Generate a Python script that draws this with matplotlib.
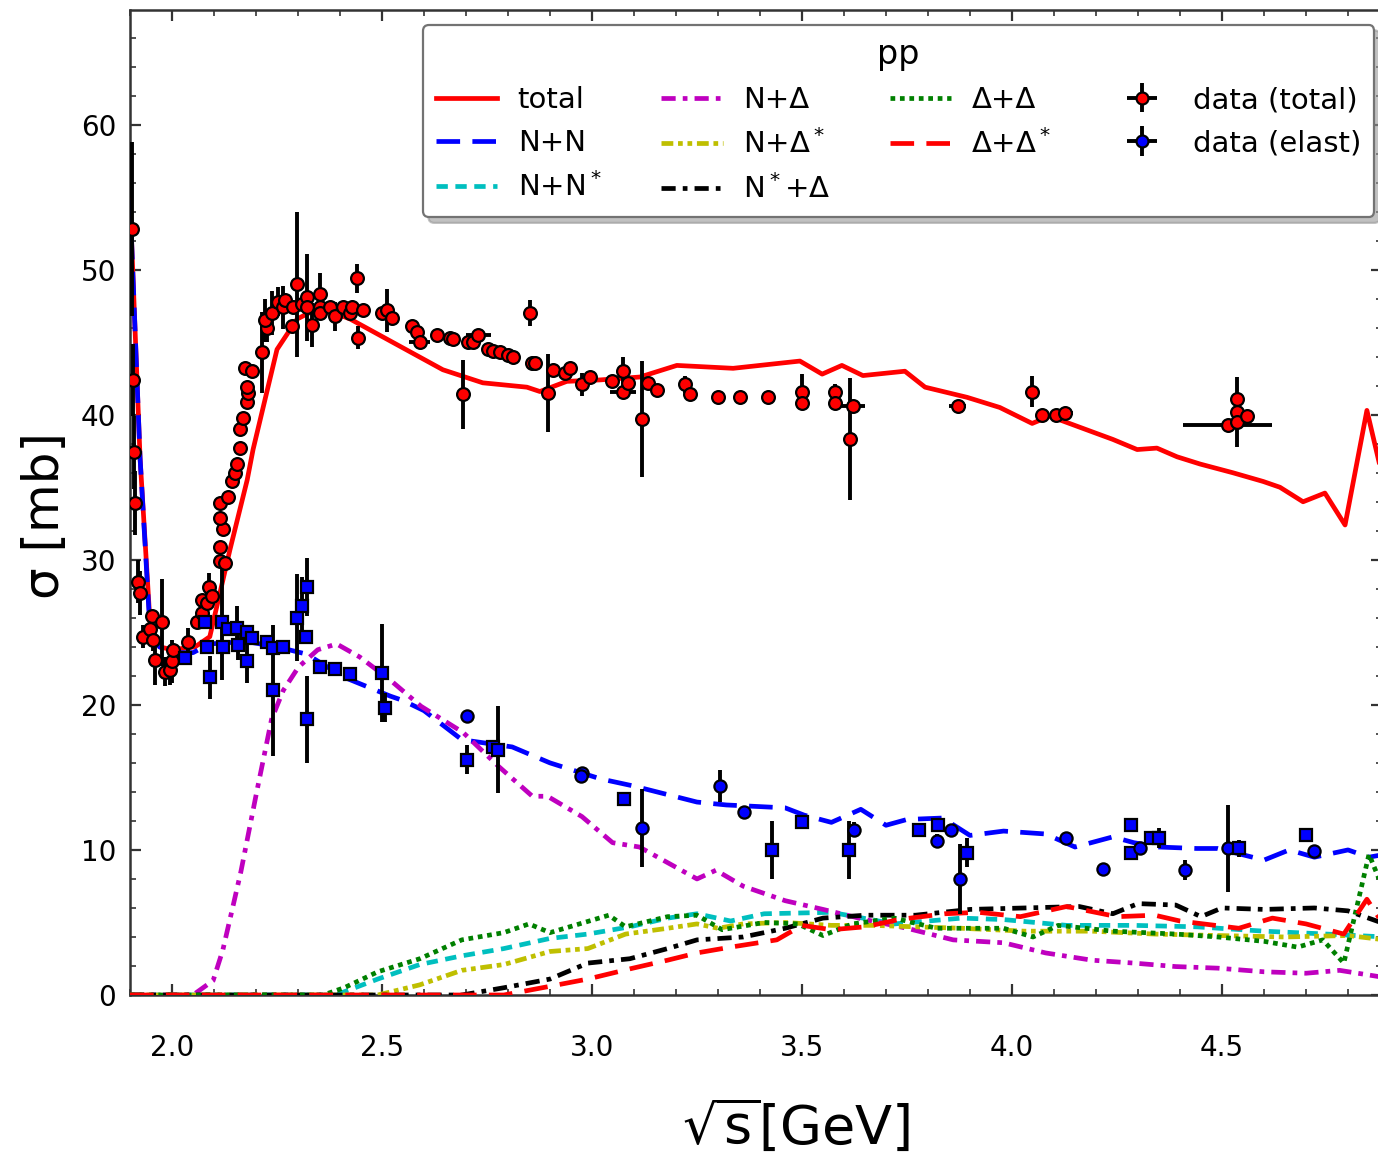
import numpy as np
import matplotlib
matplotlib.use("Agg")
import matplotlib.pyplot as plt
from matplotlib.ticker import MultipleLocator

# ---- model curves ----
tot_x = [1.900, 1.924, 1.948, 1.971, 2.000, 2.055, 2.090, 2.138, 2.179, 2.193, 2.250, 2.298, 2.352, 2.424,
         2.645, 2.740, 2.845, 2.876, 2.940, 3.019, 3.114, 3.202, 3.336, 3.495, 3.548, 3.595, 3.645, 3.745,
         3.793, 3.893, 3.971, 4.048, 4.090, 4.193, 4.240, 4.298, 4.345, 4.393, 4.448, 4.526, 4.598, 4.638,
         4.693, 4.745, 4.793, 4.845, 4.888]
tot_y = [54.8, 37.0, 25.5, 24.0, 23.8, 24.0, 24.7, 30.7, 35.5, 37.6, 44.5, 46.6, 47.4, 46.6,
         43.1, 42.2, 41.9, 41.6, 42.3, 42.4, 42.6, 43.4, 43.2, 43.7, 42.8, 43.4, 42.7, 43.0,
         41.9, 41.2, 40.5, 39.4, 39.9, 38.8, 38.3, 37.6, 37.7, 37.1, 36.6, 36.0, 35.4, 35.0,
         34.0, 34.6, 32.4, 40.3, 35.0]

nn_x = [1.900, 1.924, 1.948, 1.970, 2.000, 2.050, 2.090, 2.140, 2.190, 2.250, 2.320, 2.410, 2.520, 2.550,
        2.600, 2.690, 2.810, 2.900, 3.020, 3.100, 3.250, 3.320, 3.390, 3.460, 3.505, 3.570, 3.640, 3.700,
        3.750, 3.835, 3.900, 3.980, 4.080, 4.150, 4.240, 4.290, 4.350, 4.440, 4.490, 4.600, 4.660, 4.720,
        4.800, 4.850, 4.888]
nn_y = [54.8, 37.0, 25.0, 24.0, 23.6, 23.6, 24.2, 24.3, 24.3, 24.0, 23.5, 21.9, 20.6, 20.3,
        19.6, 17.6, 17.1, 16.0, 14.9, 14.4, 13.3, 13.1, 13.0, 12.9, 12.4, 11.9, 12.8, 11.7,
        12.1, 12.2, 11.0, 11.3, 11.1, 10.2, 10.9, 10.5, 10.2, 10.1, 10.1, 9.3, 10.0, 9.5,
        10.0, 9.5, 9.7]

nns_x = [1.90, 2.39, 2.49, 2.59, 2.69, 2.79, 2.90, 2.99, 3.09, 3.18, 3.25, 3.33, 3.41, 3.57, 3.72, 3.88,
         3.98, 4.13, 4.29, 4.44, 4.60, 4.75, 4.888]
nns_y = [0, 0, 1.1, 2.1, 2.7, 3.2, 3.9, 4.2, 4.7, 5.3, 5.6, 5.1, 5.6, 5.7, 4.9, 5.3,
         5.2, 4.8, 4.8, 4.7, 4.4, 4.2, 4.0]

nd_x = [1.900, 2.050, 2.098, 2.121, 2.145, 2.164, 2.201, 2.237, 2.265, 2.301, 2.347, 2.392, 2.447, 2.520,
        2.593, 2.693, 2.776, 2.858, 2.894, 2.976, 3.049, 3.113, 3.250, 3.295, 3.360, 3.460, 3.550, 3.650,
        3.750, 3.860, 3.980, 4.080, 4.190, 4.290, 4.390, 4.490, 4.600, 4.700, 4.780, 4.888]
nd_y = [0, 0, 1.0, 3.1, 6.1, 8.5, 13.9, 19.0, 21.0, 22.6, 23.8, 24.2, 23.3, 21.7,
        19.9, 18.1, 15.8, 13.7, 13.7, 12.3, 10.5, 10.2, 8.0, 8.6, 7.5, 6.5, 5.9, 5.2,
        4.6, 3.8, 3.6, 2.9, 2.4, 2.2, 1.96, 1.85, 1.6, 1.5, 1.7, 1.2]

nds_x = [1.90, 2.49, 2.59, 2.69, 2.79, 2.90, 2.99, 3.08, 3.18, 3.25, 3.30, 3.36, 3.46, 3.57, 3.67, 3.77,
         3.88, 4.03, 4.19, 4.34, 4.49, 4.65, 4.80, 4.888]
nds_y = [0, 0, 0.7, 1.7, 2.1, 3.0, 3.2, 4.2, 4.6, 4.9, 4.6, 4.9, 5.0, 4.8, 4.8, 4.7,
         4.6, 4.4, 4.4, 4.2, 4.1, 4.0, 4.1, 3.8]

nsd_x = [1.90, 2.69, 2.79, 2.90, 2.99, 3.09, 3.18, 3.25, 3.36, 3.46, 3.55, 3.65, 3.77, 3.90, 4.03, 4.16,
         4.24, 4.30, 4.39, 4.45, 4.50, 4.60, 4.72, 4.80, 4.888]
nsd_y = [0, 0, 0.5, 1.1, 2.2, 2.5, 3.2, 3.8, 4.0, 4.6, 5.3, 5.5, 5.5, 5.9, 6.0, 6.1,
         5.6, 6.3, 6.2, 5.4, 6.0, 5.9, 6.0, 5.8, 4.9]

dd_x = [1.90, 2.36, 2.41, 2.49, 2.59, 2.69, 2.79, 2.85, 2.90, 3.04, 3.08, 3.18, 3.25, 3.31, 3.41, 3.49,
        3.55, 3.62, 3.72, 3.82, 3.98, 4.05, 4.11, 4.24, 4.39, 4.49, 4.60, 4.68, 4.74, 4.79, 4.85, 4.888]
dd_y = [0, 0, 0.5, 1.6, 2.5, 3.8, 4.3, 4.9, 4.3, 5.5, 4.7, 5.4, 5.5, 4.5, 5.0, 4.9,
        4.1, 4.9, 5.3, 4.6, 4.6, 4.0, 4.8, 4.4, 4.2, 4.0, 3.7, 3.3, 3.8, 2.2, 9.7, 7.0]

dds_x = [1.90, 2.79, 2.90, 2.99, 3.09, 3.18, 3.25, 3.33, 3.44, 3.50, 3.57, 3.65, 3.73, 3.84, 3.92, 4.02,
         4.13, 4.25, 4.34, 4.40, 4.54, 4.62, 4.70, 4.79, 4.845, 4.888]
dds_y = [0, 0, 0.6, 1.1, 1.8, 2.4, 2.9, 3.3, 3.8, 4.8, 4.5, 4.7, 5.2, 5.6, 5.7, 5.4,
         6.1, 5.4, 5.5, 5.1, 4.6, 5.3, 4.9, 4.2, 6.6, 4.7]

# ---- data (total) ----
dt_x = [1.905, 1.907, 1.910, 1.912, 1.919, 1.924, 1.931, 1.948, 1.952, 1.955, 1.960, 1.976, 1.983, 1.995,
        2.000, 2.002, 2.038, 2.060, 2.071, 2.071, 2.083, 2.088, 2.095, 2.114, 2.126, 2.114, 2.121, 2.114,
        2.114, 2.133, 2.143, 2.150, 2.155, 2.162, 2.162, 2.169, 2.179, 2.181, 2.179, 2.174, 2.190, 2.214,
        2.226, 2.221, 2.238, 2.252, 2.264, 2.269, 2.286, 2.298, 2.288, 2.310, 2.321, 2.321, 2.333, 2.352,
        2.352, 2.352, 2.376, 2.388, 2.407, 2.424, 2.429, 2.440, 2.443, 2.455, 2.500, 2.512, 2.524, 2.571,
        2.583, 2.590, 2.631, 2.662, 2.669, 2.705, 2.717, 2.729, 2.752, 2.764, 2.781, 2.800, 2.812, 2.852,
        2.857, 2.864, 2.693, 2.895, 2.907, 2.936, 2.948, 2.976, 2.995, 3.048, 3.074, 3.074, 3.086, 3.119,
        3.133, 3.155, 3.221, 3.233, 3.300, 3.352, 3.419, 3.500, 3.500, 3.579, 3.579, 3.621, 3.614, 3.871,
        4.048, 4.071, 4.105, 4.126, 4.514, 4.536, 4.536, 4.536, 4.560]
dt_y = [52.8, 42.4, 37.4, 33.9, 28.5, 27.7, 24.7, 25.2, 26.1, 24.5, 23.1, 25.7, 22.3, 22.4,
        23.0, 23.8, 24.3, 25.7, 26.3, 27.2, 27.0, 28.1, 27.5, 29.9, 29.8, 30.9, 32.1, 32.9,
        33.9, 34.3, 35.4, 36.0, 36.6, 37.7, 39.0, 39.8, 40.9, 41.5, 41.9, 43.2, 43.0, 44.3,
        46.0, 46.5, 47.0, 47.8, 47.4, 47.9, 46.1, 49.0, 47.4, 47.6, 48.1, 47.4, 46.2, 48.3,
        47.4, 47.0, 47.4, 46.8, 47.4, 47.0, 47.4, 49.4, 45.3, 47.2, 47.0, 47.2, 46.7, 46.1,
        45.7, 45.0, 45.5, 45.3, 45.2, 45.0, 45.0, 45.5, 44.5, 44.4, 44.3, 44.1, 44.0, 47.0,
        43.6, 43.6, 41.4, 41.5, 43.1, 42.9, 43.2, 42.1, 42.6, 42.3, 43.0, 41.6, 42.2, 39.7,
        42.2, 41.7, 42.1, 41.4, 41.2, 41.2, 41.2, 41.6, 40.8, 41.6, 40.8, 40.6, 38.3, 40.6,
        41.6, 40.0, 40.0, 40.1, 39.3, 40.2, 41.1, 39.5, 39.9]
dt_yerr = [6.0, 2.5, 2.5, 2.2, 1.5, 1.5, 0.8, 0.8, 0, 0.8, 1.7, 3.0, 1.0, 1.0,
           1.5, 0, 1.0, 0.5, 0, 0, 1.5, 1.0, 0, 0, 0, 0, 0, 0,
           0, 0, 0, 0, 0, 0, 0, 0, 0, 0, 0, 0, 0, 2.8,
           1.0, 1.5, 1.5, 1.0, 1.5, 0, 0, 5.0, 0, 0, 3.0, 0, 1.5, 1.5,
           0, 0, 0, 1.0, 0, 0, 0, 1.0, 0.8, 0, 0, 1.5, 0, 0,
           0, 0, 0, 0, 0, 0, 0, 0, 0, 0, 0, 0, 0, 0.9,
           0, 0, 2.4, 2.7, 0, 0, 0, 0.8, 0, 0, 1.0, 0, 0, 4.0,
           0, 0, 0.6, 0, 0, 0, 0, 1.2, 0, 0.5, 0, 0, 4.2, 0,
           1.1, 0.3, 0.3, 0, 0, 2.4, 0, 0, 0]
dt_xerr = [0] * len(dt_x)
for i, e in [(71, 0.025), (77, 0.03), (95, 0.03), (109, 0.03), (111, 0.02), (115, 0.02), (116, 0.106)]:
    dt_xerr[i] = e

# ---- data (elastic) ----
de_x = [2.031, 2.079, 2.083, 2.090, 2.119, 2.121, 2.133, 2.155, 2.157, 2.179, 2.179, 2.190, 2.226, 2.240,
        2.240, 2.264, 2.298, 2.310, 2.321, 2.319, 2.321, 2.352, 2.388, 2.424, 2.500, 2.507,
        2.703, 2.703, 2.765, 2.777, 2.976, 2.974, 3.077, 3.120, 3.305, 3.361, 3.428, 3.500, 3.613, 3.624,
        3.778, 3.825, 3.822, 3.854, 3.876, 3.892, 4.129, 4.216, 4.283, 4.283, 4.304, 4.330, 4.351, 4.412,
        4.515, 4.541, 4.699, 4.720]
de_y = [23.2, 25.7, 24.0, 21.9, 25.7, 24.0, 25.2, 25.3, 24.1, 23.0, 25.0, 24.6, 24.3, 23.9,
        21.0, 24.0, 26.0, 26.8, 28.1, 24.7, 19.0, 22.6, 22.5, 22.1, 22.2, 19.8,
        19.2, 16.2, 17.1, 16.9, 15.3, 15.1, 13.5, 11.5, 14.4, 12.6, 10.0, 11.9, 10.0, 11.4,
        11.4, 11.7, 10.6, 11.4, 8.0, 9.8, 10.8, 8.7, 11.7, 9.8, 10.1, 10.8, 10.8, 8.6,
        10.1, 10.1, 11.0, 9.9]
de_yerr = [0, 0, 0, 1.5, 4.0, 0, 0, 1.5, 1.0, 1.5, 0, 0, 0, 0,
           4.5, 0, 3.0, 2.0, 2.0, 0, 3.0, 0, 0, 0, 3.4, 1.0,
           0.3, 1.0, 0, 3.0, 0.3, 0, 0, 2.7, 1.1, 0.3, 2.0, 0, 2.0, 0.5,
           0, 0, 0.5, 0, 2.4, 1.0, 0.2, 0, 0, 0, 0, 0, 0.7, 0.7,
           3.0, 0.6, 0, 0.3]
de_mark = ['s'] * 26 + ['o', 's', 's', 's', 'o', 'o', 's', 'o', 'o', 'o', 's', 's', 's', 'o',
                        's', 's', 'o', 'o', 'o', 's', 'o', 'o', 's', 's', 'o', 's', 's', 'o',
                        'o', 's', 's', 'o']

plt.rcParams['font.family'] = 'DejaVu Sans'
plt.rcParams['mathtext.fontset'] = 'dejavusans'

fig = plt.figure(figsize=(6.89, 5.8), dpi=200)
ax = fig.add_axes([130 / 1378, 1 - 995 / 1160, 1252 / 1378, 985 / 1160])

lw = 1.7
ax.plot(tot_x, tot_y, color='r', lw=lw, label='total', zorder=3)
ax.plot(nn_x, nn_y, color='b', lw=lw, dashes=(5, 2.6), label='N+N', zorder=3)
ax.plot(nns_x, nns_y, color=(0, 0.75, 0.75), lw=lw, dashes=(2.4, 1.6), label='N+N$^*$', zorder=3)
ax.plot(nd_x, nd_y, color=(0.75, 0, 0.75), lw=lw, dashes=(3, 1.5, 1, 1.5), label='N+Δ', zorder=3)
ax.plot(nds_x, nds_y, color=(0.75, 0.75, 0), lw=lw, dashes=(2.5, 1, 1, 1, 1, 1), label='N+Δ$^*$', zorder=3)
ax.plot(nsd_x, nsd_y, color='k', lw=lw, dashes=(3, 1.5, 1, 1.5), label='N$^*$+Δ', zorder=3)
ax.plot(dd_x, dd_y, color=(0, 0.5, 0), lw=lw, dashes=(1, 1), label='Δ+Δ', zorder=3)
ax.plot(dds_x, dds_y, color='r', lw=lw, dashes=(5, 2.6), label='Δ+Δ$^*$', zorder=3)

ekw = dict(ecolor='k', elinewidth=1.4, capsize=0, mec='k', mew=0.8, ls='none', zorder=4)
ax.errorbar(dt_x, dt_y, yerr=dt_yerr, xerr=dt_xerr, fmt='o', ms=4.6, mfc='r', **ekw)
for x, y, e, m in zip(de_x, de_y, de_yerr, de_mark):
    ax.errorbar([x], [y], yerr=[e], fmt=m, ms=4.4 if m == 'o' else 4.0, mfc='b', **ekw)

# legend proxies for the data sets
ax.errorbar([np.nan], [np.nan], xerr=[1], yerr=[1], fmt='o', ms=4.3, mfc='r', label='data (total)', **ekw)
ax.errorbar([np.nan], [np.nan], xerr=[1], yerr=[1], fmt='o', ms=4.3, mfc='b', label='data (elast)', **ekw)

ax.set_xlim(1.9, 2 + (1382 - 172) / 420)
ax.set_ylim(0, 67.9)
ax.xaxis.set_major_locator(MultipleLocator(0.5))
ax.xaxis.set_minor_locator(MultipleLocator(0.1))
ax.yaxis.set_major_locator(MultipleLocator(10))
ax.yaxis.set_minor_locator(MultipleLocator(2))
ax.tick_params(which='both', direction='in', top=True, right=True, color='#333333')
ax.tick_params(which='major', length=4, width=0.8, labelsize=10)
ax.tick_params(which='minor', length=2, width=0.6)
ax.tick_params(axis='x', which='major', pad=14)
ax.tick_params(axis='y', which='major', pad=5)
for s in ax.spines.values():
    s.set_linewidth(0.9)
    s.set_color('#333333')

ax.set_xlabel(r'$\sqrt{\mathrm{s}}$[GeV]', fontsize=19.5)
ax.xaxis.set_label_coords((796 - 130) / 1252, -0.104)
ax.set_ylabel(r'σ [mb]', fontsize=18, labelpad=4)
ax.yaxis.label.set_y(0.487)

handles, labels = ax.get_legend_handles_labels()
leg = ax.legend(handles, labels, ncol=4, loc='upper right', bbox_to_anchor=(0.994, 0.985),
                borderaxespad=0, fontsize=10.5, title='pp', title_fontsize=12,
                handlelength=2.1, handletextpad=0.7, columnspacing=2.05, labelspacing=0.52,
                borderpad=0.45, fancybox=True, shadow={'color': '0.6', 'alpha': 0.6}, framealpha=1,
                edgecolor='0.45')
leg.get_frame().set_linewidth(0.8)

fig.savefig('out.png', dpi=200)
